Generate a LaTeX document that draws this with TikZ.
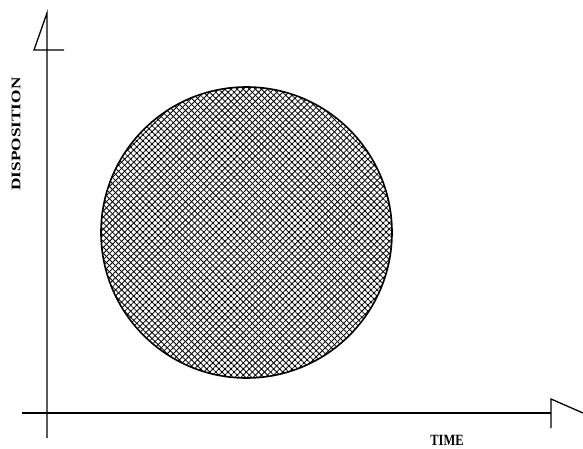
\documentclass[tikz,border=0pt]{standalone}
\usepackage{fontspec}
\setmainfont{Liberation Serif}
\usepackage{graphicx}
\usepackage{tikz}
\usetikzlibrary{patterns.meta,calc}

\tikzset{
  axisline/.style={line width=1.3pt, line cap=butt, line join=miter},
  axislabel/.style={font=\bfseries\fontsize{12.5}{14}\selectfont, inner sep=0pt},
  hatchblob/.style={circle, draw, line width=1.6pt, inner sep=0pt, minimum size=291pt,
    pattern={Lines[angle=45,distance=4.3pt,line width=.8pt]},
    postaction={pattern={Lines[angle=-45,distance=4.3pt,line width=.8pt]}}}
}

\begin{document}
\begin{tikzpicture}[x=1pt,y=1pt]
\useasboundingbox (0,0) rectangle (583,448);
% axes
\coordinate (origin) at (47,35);
\coordinate (ytip) at (47,435);
\coordinate (ybot) at (47,10);
\coordinate (xleft) at (22,35);
\coordinate (xend) at (551,35);
\coordinate (xtip) at (583,35);
\draw[axisline] (ybot) -- (ytip) -- ($(ytip)+(-13,-37)$) -- ++(30,0);
\draw[axisline] (xleft) -- (xend);
\draw[axisline] ($(xend)+(0,-15)$) -- ($(xend)+(0,14)$) -- (xtip);
% the hatched region
\node[hatchblob] (region) at (246.5,215.5) {};
% labels
\node[axislabel, rotate=90] (ylabel) at (16,314) {\scalebox{1.38}[1.05]{DISPOSITION}};
\node[axislabel] (xlabel) at (447,8) {\scalebox{1}[1.25]{TIME}};
\end{tikzpicture}
\end{document}
